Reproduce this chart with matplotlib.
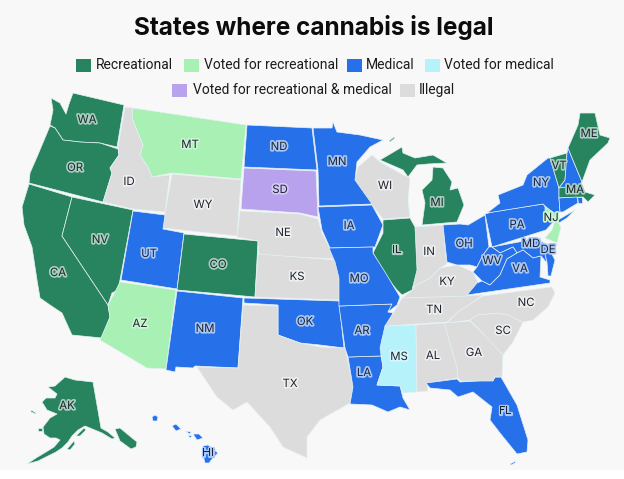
import matplotlib
matplotlib.use('Agg')
import matplotlib.pyplot as plt
import matplotlib.patheffects as pe

# Status colours
colors = {
    "rec": "#27845F",
    "voted_rec": "#A8F0B4",
    "med": "#2671EA",
    "voted_med": "#B6F2FA",
    "both": "#B8A2EE",
    "illegal": "#DCDCDC",
}
halos = {
    "rec": "#A9CFBF",
    "voted_rec": "#CDF6D4",
    "med": "#A9C8F7",
    "voted_med": "#D5F8FC",
    "both": "#D6C9F5",
    "illegal": "#F0F0F0",
}

recreational = ["WA", "OR", "CA", "NV", "CO", "IL", "MI", "ME", "VT", "MA", "AK"]
voted_recreational = ["MT", "AZ", "NJ"]
medical = ["UT", "NM", "ND", "MN", "IA", "MO", "AR", "LA", "OK", "FL", "OH", "PA", "NY",
           "WV", "VA", "MD", "DE", "NH", "CT", "RI", "HI"]
voted_medical = ["MS"]
voted_both = ["SD"]
illegal = ["ID", "WY", "NE", "KS", "TX", "WI", "IN", "KY", "TN", "AL", "GA", "SC", "NC"]

legend_row1 = [("rec", "Recreational"), ("voted_rec", "Voted for recreational"),
               ("med", "Medical"), ("voted_med", "Voted for medical")]
legend_row2 = [("both", "Voted for recreational & medical"), ("illegal", "Illegal")]

# State outlines, in image pixels
outlines = {
    "WA": [[(73,93),(124,105),(117,147),(100,143),(80,142),(63,140),(55,128),(50,125),(53,110),(51,98),(60,103),(66,114),(69,104)]],
    "OR": [[(55,128),(63,140),(80,142),(100,143),(118,149),(119,155),(110,168),(112,173),(103,202),(29,183),(30,173),(37,157),(50,126)]],
    "CA": [[(29,184),(72,197),(62,236),(108,305),(110,317),(102,338),(72,335),(62,313),(50,305),(40,298),(37,280),(32,247),(24,225),(22,207)]],
    "NV": [[(72,197),(133,210),(120,280),(118,290),(112,293),(108,305),(62,236)]],
    "ID": [[(125,107),(133,108),(132,118),(143,145),(140,155),(148,167),(152,177),(170,175),(165,212),(133,209),(103,202),(112,173),(110,168),(119,155),(118,147)]],
    "MT": [[(133,108),(246,125),(241,179),(172,173),(152,177),(148,167),(140,155),(143,145),(132,118)]],
    "WY": [[(172,174),(241,180),(237,236),(163,228),(165,213)]],
    "UT": [[(133,211),(165,215),(163,229),(184,233),(177,289),(121,280)]],
    "CO": [[(184,234),(258,241),(255,297),(177,290)]],
    "AZ": [[(120,282),(176,290),(166,369),(147,368),(100,340),(110,317),(108,305),(115,292)]],
    "NM": [[(177,291),(243,298),(238,368),(195,366),(193,368),(176,367),(175,372),(166,370)]],
    "ND": [[(247,125),(312,128),(317,170),(244,167)]],
    "SD": [[(244,168),(316,171),(318,217),(300,213),(241,209)]],
    "NE": [[(240,211),(300,214),(318,219),(322,233),(335,259),(259,255),(258,241),(237,237)]],
    "KS": [[(258,254),(335,260),(340,270),(340,300),(255,297)]],
    "OK": [[(244,298),(339,301),(341,320),(344,348),(320,345),(300,343),(278,335),(278,305),(244,303)]],
    "TX": [[(243,305),(278,306),(278,335),(300,343),(320,347),(345,348),(347,357),(353,387),(350,403),(320,420),(307,437),(307,458),(283,447),(270,427),(247,402),(233,410),(217,397),(197,367),(238,368)]],
    "LA": [[(348,357),(381,356),(383,367),(377,385),(400,386),(403,398),(410,410),(400,407),(388,412),(372,405),(350,404),(353,387)]],
    "AR": [[(339,306),(393,304),(388,312),(393,313),(382,340),(381,356),(348,357),(345,348)]],
    "MS": [[(385,326),(416,325),(417,392),(403,393),(400,386),(377,385),(383,367),(380,348)]],
    "AL": [[(416,325),(444,323),(457,367),(458,378),(427,383),(428,391),(417,392)]],
    "FL": [[(426,383),(457,379),(460,382),(493,380),(495,377),(501,377),(517,405),(528,440),(527,452),(517,454),(500,433),(490,420),(492,407),(473,392),(458,397),(450,390),(430,388)],
           [(510,464),(516,461),(515,463),(511,465)]],
    "GA": [[(444,323),(470,321),(503,353),(502,377),(495,377),(493,381),(460,381),(458,378),(457,367)]],
    "SC": [[(470,320),(477,315),(497,313),(508,315),(523,322),(513,342),(503,355)]],
    "NC": [[(552,287),(555,293),(548,307),(533,320),(523,322),(508,315),(497,313),(477,315),(470,320),(447,323),(458,312),(473,302),(483,296)]],
    "TN": [[(402,298),(483,295),(473,302),(458,312),(447,322),(385,326),(397,307)]],
    "KY": [[(402,298),(410,292),(415,286),(430,278),(440,268),(457,265),(473,272),(478,282),(467,296)]],
    "IN": [[(415,227),(443,225),(446,257),(447,264),(440,268),(430,278),(413,287),(417,270)]],
    "IL": [[(383,220),(410,218),(415,227),(417,270),(412,290),(402,295),(397,290),(385,275),(373,253),(383,233)]],
    "WI": [[(355,178),(358,167),(372,155),(380,162),(407,177),(410,178),(408,200),(410,217),(383,219),(372,205),(357,187)]],
    "MN": [[(313,128),(332,128),(333,122),(337,132),(360,135),(383,140),(370,147),(357,162),(355,180),(372,204),(319,206),(318,170)]],
    "IA": [[(318,207),(372,205),(383,225),(375,247),(330,248),(322,230)]],
    "MO": [[(329,248),(373,247),(373,253),(385,272),(400,297),(397,305),(388,312),(392,304),(339,306),(339,278),(335,262)]],
    "MI": [[(433,167),(443,168),(452,182),(450,190),(458,188),(464,205),(457,222),(422,225),(425,203),(422,190),(432,180)],
           [(380,160),(402,147),(403,153),(415,158),(433,155),(447,163),(428,164),(417,165),(408,177),(403,170)],
           [(389,141),(394,137),(395,138),(390,142)]],
    "OH": [[(443,225),(460,224),(468,225),(485,215),(489,247),(483,255),(477,267),(470,265),(457,265),(447,262)]],
    "PA": [[(485,214),(492,212),(543,204),(555,220),(546,230),(492,247)]],
    "NY": [[(487,213),(500,203),(498,195),(523,185),(527,175),(548,158),(550,158),(559,188),(559,198),(560,212),(555,215),(543,204)],
           [(558,220),(575,210),(567,218),(559,223)]],
    "VT": [[(550,158),(567,153),(565,180),(559,188)]],
    "NH": [[(567,153),(568,148),(582,182),(577,187),(559,188),(565,180)]],
    "ME": [[(568,148),(578,125),(580,113),(595,113),(600,135),(610,138),(608,143),(590,160),(582,182)]],
    "MA": [[(559,188),(580,185),(585,192),(595,195),(588,202),(583,197),(559,198)]],
    "CT": [[(559,198),(577,197),(578,203),(563,212),(560,212)]],
    "RI": [[(577,197),(582,197),(582,203),(578,203)]],
    "NJ": [[(545,207),(558,215),(558,222),(561,227),(557,243),(545,238),(552,230),(555,220),(545,212)]],
    "MD": [[(492,247),(540,238),(544,248),(547,263),(541,256),(533,258),(523,250),(517,253),(513,247),(500,253)]],
    "DE": [[(541,241),(547,245),(555,260),(551,276),(548,276),(547,262),(544,250)]],
    "WV": [[(489,247),(492,247),(500,253),(513,247),(517,253),(507,259),(500,275),(490,285),(482,281),(473,272),(477,267),(483,255)]],
    "VA": [[(467,295),(477,283),(482,281),(490,285),(500,275),(507,259),(517,253),(523,250),(533,258),(541,256),(540,277),(550,280),(550,283)]],
    "AK": [[(48,387),(55,386),(65,377),(75,380),(93,382),(101,428),(108,432),(115,438),(112,439),(102,433),(90,428),(85,426),(78,430),(72,436),(68,442),(62,448),(56,452),(48,456),(38,461),(27,464),(36,458),(46,452),(54,447),(60,440),(56,438),(50,438),(44,434),(43,427),(50,418),(57,414),(47,410),(42,402),(46,398),(55,398),(57,394)],
           [(115,429),(120,428),(137,442),(136,447),(131,449),(120,441)],
           [(76,436),(84,428),(86,430),(80,436)],
           [(67,449),(74,441),(75,444),(70,450)],[(31,410),(36,413),(36,414),(31,412)],
           [(38,428),(42,428),(42,431),(38,431)]],
    "HI": [[(152,417),(155,415),(158,417),(157,421),(153,421)],[(172,426),(176,424),(181,429),(176,431)],
           [(185,431),(191,432),(190,434)],[(188,435),(192,436),(190,438)],[(193,434),(199,434),(203,438),(197,440)],
           [(203,446),(208,445),(218,453),(213,458),(209,463),(205,463),(203,455)]],
}

# Where each two letter code sits
label_pos = {
    "WA": (87,120), "OR": (75,168), "CA": (58,273), "NV": (100,240), "ID": (129,182), "MT": (190,145),
    "WY": (203,205), "UT": (149,254), "CO": (218,265), "AZ": (140,324), "NM": (205,329), "ND": (279,147),
    "SD": (280,190), "NE": (283,233), "KS": (297,277), "OK": (305,322), "TX": (290,384), "MN": (337,162),
    "IA": (349,226), "MO": (359,279), "AR": (362,331), "LA": (364,373), "WI": (385,186), "IL": (397,250),
    "MS": (399,357), "AL": (433,356), "GA": (474,353), "FL": (505,411), "SC": (503,331), "NC": (526,303),
    "TN": (434,310), "KY": (447,282), "IN": (429,252), "OH": (464,244), "MI": (437,203), "PA": (517,225),
    "NY": (541,183), "VT": (559,166), "ME": (589,134), "MA": (575,190), "NJ": (551,218), "DE": (548,250),
    "MD": (531,244), "WV": (492,261), "VA": (520,269), "AK": (67,406), "HI": (208,453),
}

status = {}
for key, names in [("rec", recreational), ("voted_rec", voted_recreational), ("med", medical),
                   ("voted_med", voted_medical), ("both", voted_both), ("illegal", illegal)]:
    for name in names:
        status[name] = key

fig = plt.figure(figsize=(6.24, 4.79), dpi=100, facecolor="#F8F8F8")
ax = fig.add_axes([0, 0, 1, 1])
ax.set_xlim(0, 624)
ax.set_ylim(479, 0)
ax.axis("off")
ax.axhspan(470, 479, color="white", lw=0)

for name, parts in outlines.items():
    key = status[name]
    for part in parts:
        xs = [p[0] for p in part]
        ys = [p[1] for p in part]
        ax.fill(xs, ys, facecolor=colors[key], edgecolor="#E4F1F6", linewidth=0.5, joinstyle="round")

for name, (x, y) in label_pos.items():
    key = status[name]
    ax.text(x, y, name, ha="center", va="center", fontsize=8.2, family="Inter", color="#1E2430",
            path_effects=[pe.withStroke(linewidth=2.4, foreground=halos[key])])

ax.text(314, 27, "States where cannabis is legal", ha="center", va="center", fontsize=17.5,
        family="Inter", weight="bold", color="#0C0C0C")

# Legend rows, swatch x and text x
row1_x = [(76, 96), (184, 204), (347, 366), (425, 444)]
row2_x = [(172, 193), (400, 419)]
for row, pos, y in [(legend_row1, row1_x, 65), (legend_row2, row2_x, 90)]:
    for (key, text), (sx, tx) in zip(row, pos):
        ax.add_patch(plt.Rectangle((sx, y - 6.5), 15, 13, facecolor=colors[key], edgecolor="none"))
        ax.text(tx, y, text, ha="left", va="center", fontsize=10.0, family="Roboto", color="#1C1C1C")

fig.savefig("out.png", dpi=100, facecolor=fig.get_facecolor())
plt.close(fig)
